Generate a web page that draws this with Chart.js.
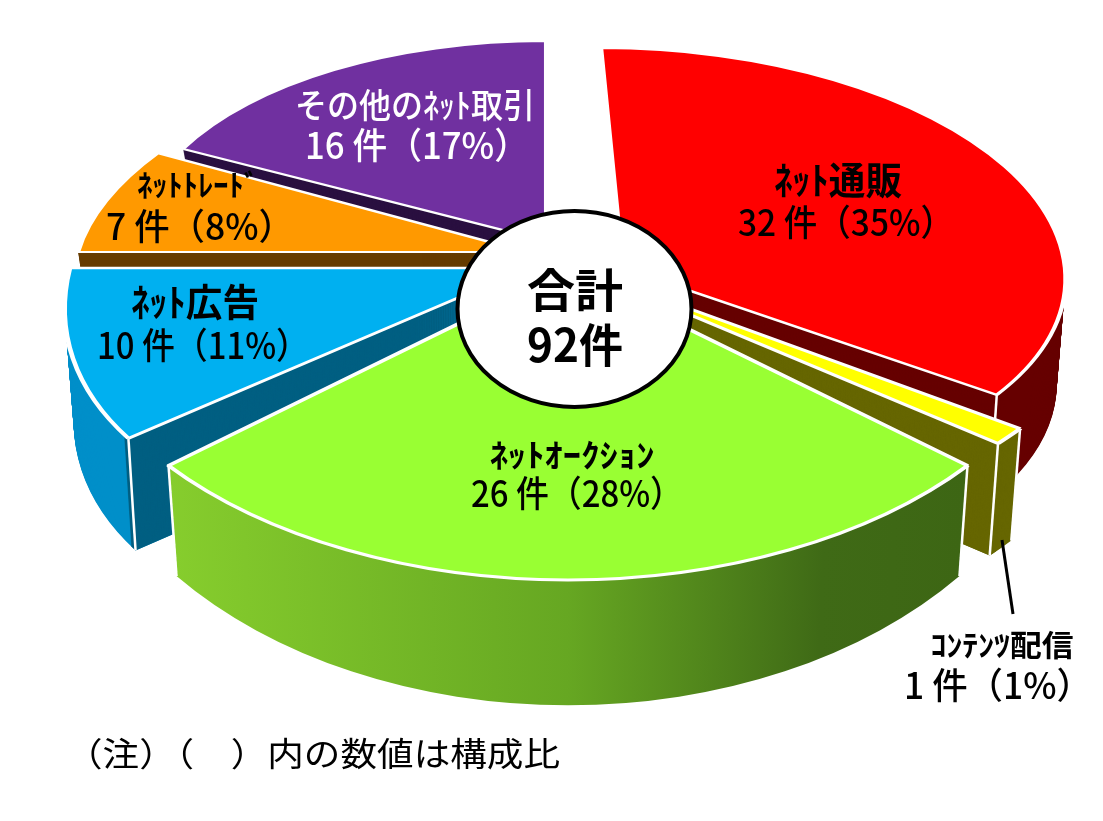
<!DOCTYPE html>
<html lang="ja">
<head>
<meta charset="utf-8">
<title>合計92件</title>
<script src="https://cdn.jsdelivr.net/npm/chart.js@4/dist/chart.umd.min.js"></script>
<style>
  html, body { margin: 0; padding: 0; background: #fff; }
  canvas { display: block; }
</style>
</head>
<body>
<canvas id="pie" width="1103" height="821"></canvas>
<script>
const categories = ['ﾈｯﾄ通販', 'ｺﾝﾃﾝﾂ配信', 'ﾈｯﾄｵｰｸｼｮﾝ', 'ﾈｯﾄ広告', 'ﾈｯﾄﾄﾚｰﾄﾞ', 'その他のﾈｯﾄ取引'];
const counts = [32, 1, 26, 10, 7, 16];
const shares = [35, 1, 28, 11, 8, 17];
const totalLabel = ['合計', '92件'];
const noteLabel = '（注）（　）内の数値は構成比';

const faceColors = ['#ff0000', '#ffff00', '#99ff33', '#00b0f0', '#ff9900', '#7030a0'];
const wallColors = ['#660000', '#666600', null, '#005f82', '#663c00', '#2a1040'];
const rimColors = ['#660000', '#666600', null, '#008fc9', '#663c00', '#2a1040'];
const textColors = ['#000', '#000', '#000', '#000', '#000', '#fff'];

// how each slice sits on the page (the picture is in perspective, so every slice differs)
const BASE_RADIUS = 500;
const pieCenter = { x: 565, y: 300 };
const explodeX = [58, 18, 3, -37, -38, -19];
const explodeY = [-32, -30, -30, -32, -48, -59];
const radiusX = [442, 535, 515, 458, 449, 409];
const radiusY = [220, 275, 310, 270, 215, 200];
const skew = [0.1, 0, 0, -0.26, -0.3, 0];
const depth = [105, 112, 85, 112, 60, 40];
const depthGrowY = [0, 0, 0.13, 0, 0, 0];
const depthShrinkX = 0.02;
const wallTrim = [0.7, 0, 0, 0, 0, 0];
const wallBand = 0.02;
const drawOrder = [5, 4, 3, 0, 1, 2];

// label centre x, centre y, width, font size
const nameBox = [[838, 180, 128, 38], [1002, 645, 143, 30], [572, 455, 165, 32], [195, 302, 128, 38], [198, 185, 122, 30], [415, 105, 240, 34]];
const detailBox = [[846, 222, 216, 36], [998, 685, 188, 36], [577, 493, 212, 36], [203, 345, 212, 36], [200, 226, 188, 36], [417, 145, 224, 36]];

function scaleAt(i, drop) {
    const t = depth[i] ? drop / depth[i] : 0;
    return {
        sx: radiusX[i] / BASE_RADIUS * (1 - depthShrinkX * t),
        sy: radiusY[i] / BASE_RADIUS * (1 + depthGrowY[i] * t)
    };
}

function pieTransform(ctx, arc, i, drop) {
    const { sx, sy } = scaleAt(i, drop);
    ctx.translate(pieCenter.x + explodeX[i], pieCenter.y + explodeY[i] + drop);
    ctx.transform(sx, 0, skew[i] * sy, sy, 0, 0);
    ctx.translate(-arc.x, -arc.y);
}

function fillArc(ctx, arc, base, color, border) {
    arc.options = Object.assign({}, base, {
        backgroundColor: color,
        borderColor: '#fff',
        borderWidth: border
    });
    arc.draw(ctx);
}

function fillLayers(ctx, arc, base, i, color) {
    for (let d = depth[i]; d >= 1; d--) {
        ctx.save();
        pieTransform(ctx, arc, i, d);
        fillArc(ctx, arc, base, color, 0);
        ctx.restore();
    }
}

function cornerPoint(i, angle, drop) {
    const { sx, sy } = scaleAt(i, drop);
    const px = BASE_RADIUS * Math.cos(angle);
    const py = BASE_RADIUS * Math.sin(angle);
    return {
        x: pieCenter.x + explodeX[i] + sx * px + skew[i] * sy * py,
        y: pieCenter.y + explodeY[i] + drop + sy * py
    };
}

const slicedPie = {
    id: 'slicedPie',
    beforeDatasetDraw(chart, args) {
        const ctx = chart.ctx;
        const arcs = args.meta.data;
        drawOrder.forEach(i => {
            const arc = arcs[i];
            const base = arc.options;
            const startAngle = arc.startAngle;
            const endAngle = arc.endAngle;
            const sweep = arc.circumference;

            let rim = rimColors[i];
            if (!rim) {
                // green side fades from left to right
                const x0 = arc.x + BASE_RADIUS * Math.cos(endAngle);
                const x1 = arc.x + BASE_RADIUS * Math.cos(startAngle);
                rim = ctx.createLinearGradient(x0, 0, x1, 0);
                rim.addColorStop(0, '#86cd2d');
                rim.addColorStop(0.5, '#66a722');
                rim.addColorStop(0.82, '#3f6a16');
                rim.addColorStop(1, '#3d6614');
            }

            arc.startAngle = startAngle + wallTrim[i];
            fillLayers(ctx, arc, base, i, rim);
            arc.startAngle = startAngle;

            // the cut face looking at us is only the lower of the two radial edges
            if (wallColors[i]) {
                if (Math.sin(endAngle) > Math.sin(startAngle)) {
                    arc.startAngle = endAngle - wallBand;
                } else {
                    arc.endAngle = startAngle + wallBand;
                }
                arc.circumference = wallBand;
                fillLayers(ctx, arc, base, i, wallColors[i]);
                arc.startAngle = startAngle;
                arc.endAngle = endAngle;
                arc.circumference = sweep;
            }

            // white edges running down the front corners
            ctx.save();
            ctx.strokeStyle = '#fff';
            ctx.lineWidth = 2.5;
            [startAngle, endAngle].forEach(a => {
                if (Math.sin(a) < 0.05) return;
                const top = cornerPoint(i, a, 0);
                const bottom = cornerPoint(i, a, depth[i]);
                ctx.beginPath();
                ctx.moveTo(top.x, top.y);
                ctx.lineTo(bottom.x, bottom.y);
                ctx.stroke();
            });
            ctx.restore();

            ctx.save();
            pieTransform(ctx, arc, i, 0);
            fillArc(ctx, arc, base, faceColors[i], 5);
            ctx.restore();
            arc.options = base;
        });
        return false;
    },
    afterDatasetsDraw(chart) {
        const ctx = chart.ctx;

        // leader line for the smallest slice
        ctx.strokeStyle = '#000';
        ctx.lineWidth = 3;
        ctx.beginPath();
        ctx.moveTo(1002, 540);
        ctx.lineTo(1013, 614);
        ctx.stroke();

        // centre plate
        ctx.fillStyle = '#fff';
        ctx.lineWidth = 4;
        ctx.beginPath();
        ctx.ellipse(574.5, 309, 117, 98, 0, 0, Math.PI * 2);
        ctx.fill();
        ctx.stroke();

        categories.forEach((name, i) => {
            const n = nameBox[i];
            const v = detailBox[i];
            drawText(ctx, name, n[0], n[1], n[2], n[3], i === 5 ? '500' : '700', textColors[i]);
            drawText(ctx, `${counts[i]} 件（${shares[i]}%）`, v[0], v[1], v[2], v[3], '500', textColors[i]);
        });
        drawText(ctx, totalLabel[0], 575, 290, 96, 46, '700', '#000');
        drawText(ctx, totalLabel[1], 575, 345, 96, 46, '700', '#000');
        drawText(ctx, noteLabel, 313, 753, 494, 33, '400', '#000');
    }
};

function drawText(ctx, text, x, y, width, size, weight, color) {
    ctx.save();
    ctx.font = `${weight} ${size}px "Noto Sans CJK JP"`;
    ctx.fillStyle = color;
    ctx.textAlign = 'center';
    ctx.textBaseline = 'middle';
    ctx.translate(x, y);
    ctx.scale(width / ctx.measureText(text).width, 1);
    ctx.fillText(text, 0, 0);
    ctx.restore();
}

new Chart(document.getElementById('pie'), {
    type: 'doughnut',
    plugins: [slicedPie],
    data: {
        labels: categories,
        datasets: [{
            data: counts,
            backgroundColor: faceColors,
            borderWidth: 0,
            radius: BASE_RADIUS,
            cutout: 0
        }]
    },
    options: {
        responsive: false,
        animation: false,
        events: [],
        plugins: {
            legend: { display: false },
            tooltip: { enabled: false }
        }
    }
});
</script>
</body>
</html>
